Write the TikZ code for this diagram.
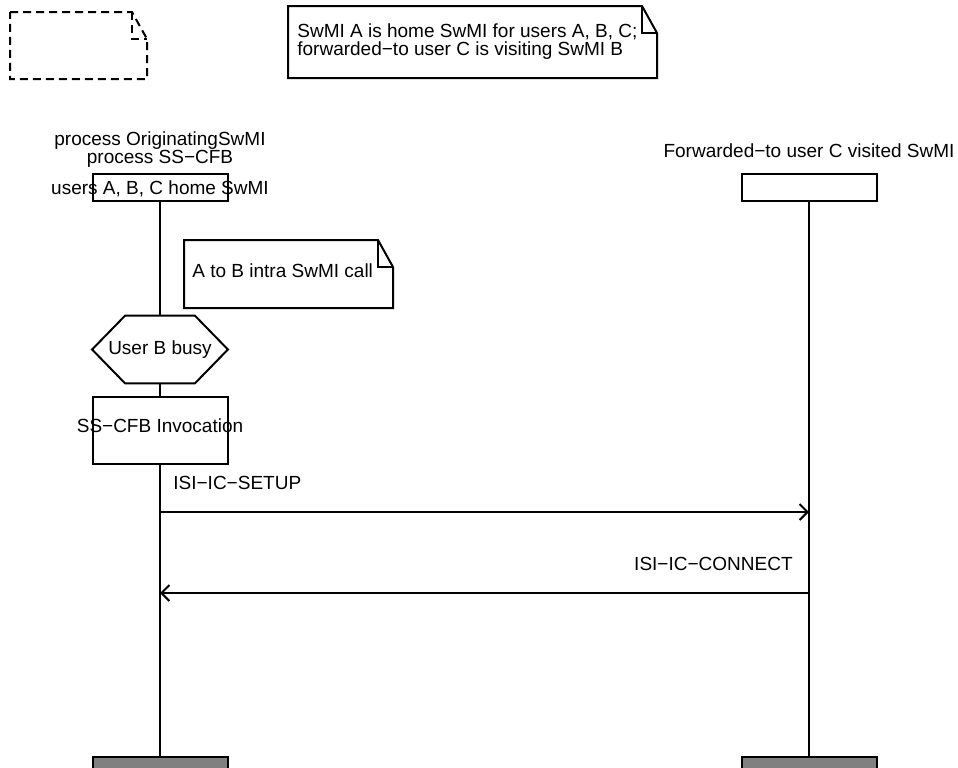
\documentclass[tikz,border=0pt]{standalone}
\usepackage{fontspec}
\setmainfont{Liberation Sans}
\usepackage{xcolor}
\usepackage{tikz}
\usetikzlibrary{arrows.meta,positioning}
\definecolor{sdlblack}{RGB}{0,0,0}
\definecolor{stopgrey}{RGB}{128,128,128}
\newcommand{\sdlfont}{\fontsize{9.5}{9}\selectfont}
\tikzset{
  instbox/.style={draw=sdlblack,line width=1pt,minimum width=67.5pt,
    minimum height=13.5pt,inner sep=0pt},
  stopbox/.style={instbox,fill=stopgrey},
  actionbox/.style={draw=sdlblack,line width=1pt,minimum width=67.5pt,
    minimum height=33.5pt,inner sep=0pt},
  condbox/.style={font=\sdlfont,minimum width=67.5pt,minimum height=33.5pt,
    inner sep=0pt},
  sdltext/.style={font=\sdlfont,inner sep=0pt},
  lifeline/.style={line width=1pt,draw=sdlblack},
  msg/.style={-{Straight Barb[length=4pt,width=8pt]},line width=1pt,
    draw=sdlblack},
  notebox/.style={line width=1pt,draw=sdlblack,line join=miter}
}
\newcommand{\sdlnote}[5][]{%
  \draw[notebox,#1] (#2,#3) -- ({#4-15},#3) -- (#4,{#3+27}) -- (#4,#5)
    -- (#2,#5) -- cycle;
  \draw[notebox,#1] ({#4-15},#3) |- (#4,{#3+27});}

\begin{document}
\begin{tikzpicture}[x=0.5pt,y=-0.5pt]
  \useasboundingbox (0,0) rectangle (958,767);
  \clip (0,0) rectangle (958,767);
  % comments
  \sdlnote[dash pattern=on 4pt off 2.5pt]{10}{12}{147}{79}
  \sdlnote{288}{6}{657}{78}
  \node[sdltext,anchor=base west] (homeA) at (297,37)
    {SwMI A is home SwMI for users A, B, C;};
  \node[sdltext,anchor=base west] (homeB) at (297,55)
    {forwarded−to user C is visiting SwMI B};
  % instance heads
  \node[sdltext,anchor=base] (origproc) at (160,145) {process OriginatingSwMI};
  \node[sdltext,anchor=base] (origcfb) at (160,163) {process SS−CFB};
  \node[instbox] (orig) at (160,187) {};
  \node[sdltext,anchor=base] (origname) at (160,194) {users A, B, C home SwMI};
  \node[sdltext,anchor=base] (fwdname) at (809,157)
    {Forwarded−to user C visited SwMI};
  \node[instbox] (fwd) at (809,187.5) {};
  % originating side
  \sdlnote{184}{240}{393}{308}
  \node[sdltext,anchor=base west] (intra) at (192,277) {A to B intra SwMI call};
  \node[condbox] (busy) at (160,349.5) {User B busy};
  \draw[lifeline] (busy.west) -- ([xshift=16.5pt]busy.north west)
    -- ([xshift=-16.5pt]busy.north east) -- (busy.east)
    -- ([xshift=-16.5pt]busy.south east) -- ([xshift=16.5pt]busy.south west)
    -- cycle;
  \node[actionbox] (invoc) at (160,430.5) {};
  \node[sdltext,anchor=base] (invoclbl) at (160,432) {SS−CFB Invocation};
  % stops
  \node[stopbox] (origend) at (160,770.5) {};
  \node[stopbox] (fwdend) at (809,770.5) {};
  % lifelines
  \draw[lifeline] (orig.south) -- (busy.north);
  \draw[lifeline] (busy.south) -- (invoc.north);
  \draw[lifeline] (invoc.south) -- (origend.north);
  \draw[lifeline] (fwd.south) -- (fwdend.north);
  % messages
  \coordinate (setupfrom) at (160,512);
  \coordinate (setupto) at (809,512);
  \coordinate (connfrom) at (809,593);
  \coordinate (connto) at (160,593);
  \draw[msg] (setupfrom) -- (setupto);
  \node[sdltext,anchor=base west] (setuplbl) at (173,489) {ISI−IC−SETUP};
  \draw[msg] (connfrom) -- (connto);
  \node[sdltext,anchor=base east] (connlbl) at (793,570) {ISI−IC−CONNECT};
\end{tikzpicture}
\end{document}
